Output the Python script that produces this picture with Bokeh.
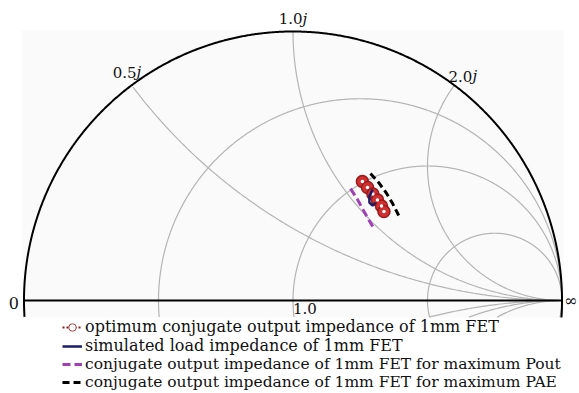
import numpy as np
from bokeh.plotting import figure
from bokeh.models import Range1d, Legend, LegendItem
from bokeh.core.properties import value
from bokeh.embed import file_html
from bokeh.resources import INLINE

opt_re = [0.258, 0.277, 0.297, 0.314, 0.329, 0.338]
opt_im = [0.442, 0.420, 0.396, 0.374, 0.351, 0.331]
sim_re = [0.296, 0.284, 0.284, 0.296, 0.307]
sim_im = [0.413, 0.387, 0.364, 0.353, 0.364]
pout_re = [0.214, 0.240, 0.262, 0.281, 0.299]
pout_im = [0.416, 0.375, 0.335, 0.301, 0.271]
pae_re = [0.288, 0.318, 0.348, 0.370, 0.393]
pae_im = [0.472, 0.439, 0.398, 0.361, 0.316]

# ---- Smith chart grid ----
resistances = [1 / 3, 1.0, 3.0]
reactances = [0.5, 1.0, 2.0]
reactance_labels = ["0.5", "1.0", "2.0"]
resistance_label_values = [1.0]
resistance_labels = ["1.0"]

legend_labels = [
    "optimum conjugate output impedance of 1mm FET",
    "simulated load impedance of 1mm FET",
    "conjugate output impedance of 1mm FET for maximum Pout",
    "conjugate output impedance of 1mm FET for maximum PAE",
]

PX = 269.0  # pixels per unit of reflection coefficient
Y_CLIP = -0.063
GRID = "#b4b4b4"
SERIF = "DejaVu Serif"
LEG_SIZES = ["16px", "16px", "15.5px", "15.5px"]

p = figure(width=579, height=393, output_backend="svg", toolbar_location=None,
           x_range=Range1d(-292.5 / PX, (579 - 292.5) / PX),
           y_range=Range1d((300 - 393) / PX, 300 / PX),
           min_border=0, outline_line_color=None)
p.axis.visible = False
p.grid.visible = False
p.background_fill_color = "white"
p.border_fill_color = "white"

# light panel behind the chart
p.quad(left=-1.0056, right=1.0056, bottom=Y_CLIP, top=1.0037,
       fill_color="#fafafa", line_color=None)

t = np.linspace(0, 2 * np.pi, 1500)


def clipped(xs, ys):
    xs = np.array(xs, dtype=float)
    ys = np.array(ys, dtype=float)
    bad = (ys < Y_CLIP) | (xs ** 2 + ys ** 2 > 1.0000001)
    xs[bad] = np.nan
    ys[bad] = np.nan
    return xs, ys


for r in resistances:
    c = r / (1 + r)
    rad = 1 / (1 + r)
    xs, ys = clipped(c + rad * np.cos(t), rad * np.sin(t))
    p.line(xs, ys, line_color=GRID, line_width=1.2)

for xv in reactances:
    for s in (1, -1):
        cy = s / xv
        rad = 1 / xv
        xs, ys = clipped(1 + rad * np.cos(t), cy + rad * np.sin(t))
        p.line(xs, ys, line_color=GRID, line_width=1.2)

# outer circle and real axis
ox, oy = clipped(np.cos(t), np.sin(t))
p.line(ox, oy, line_color="black", line_width=2)
p.line([-1, 1], [0, 0], line_color="black", line_width=2)

# reactance labels (number + italic j)
lab_x = [(x * x - 1) / (x * x + 1) for x in reactances]
lab_y = [2 * x / (x * x + 1) for x in reactances]
x_offs = [4.9, 9.5, 18.0]
y_offs = [-13, -13, -9]
for lx, ly, txt, xo, yo in zip(lab_x, lab_y, reactance_labels, x_offs, y_offs):
    p.text(x=[lx], y=[ly], text=[txt], x_offset=xo, y_offset=yo,
           text_align="right", text_baseline="middle",
           text_font=value(SERIF), text_font_size="15px", text_color="#111111")
    p.text(x=[lx], y=[ly], text=["j"], x_offset=xo, y_offset=yo,
           text_align="left", text_baseline="middle", text_font_style="italic",
           text_font=value(SERIF), text_font_size="15px", text_color="#111111")

# resistance label
rl_x = [(r - 1) / (r + 1) for r in resistance_label_values]
p.text(x=rl_x, y=[0] * len(rl_x), text=resistance_labels, x_offset=0, y_offset=8,
       text_align="left", text_baseline="middle",
       text_font=value(SERIF), text_font_size="15px", text_color="#111111")

# ends of the real axis
p.text(x=[-1], y=[0], text=["0"], x_offset=-5, y_offset=2, text_align="right",
       text_baseline="middle", text_font=value(SERIF), text_font_size="16px",
       text_color="#111111")
p.text(x=[1], y=[0], text=["\u221e"], x_offset=2, y_offset=0, text_align="left",
       text_baseline="middle", text_font=value(SERIF), text_font_size="16px",
       text_color="#111111")

# ---- data series ----
r_pout = p.line(pout_re, pout_im, line_color="#a040b4", line_width=3, line_dash="8 4")
r_pae = p.line(pae_re, pae_im, line_color="black", line_width=3, line_dash="7 4")
r_opt_l = p.line(opt_re, opt_im, line_color="#8b1a1a", line_width=2, line_dash="2 2")
r_opt_s = p.scatter(opt_re, opt_im, size=12, fill_color="#d0302f",
                    line_color="#9b1b1b", line_width=1.5)
r_opt_d = p.scatter(opt_re, opt_im, size=3.5, fill_color="white", line_color=None)
r_sim = p.line(sim_re, sim_im, line_color="#1c1c66", line_width=2.5)

# one legend per row, so that the rows can sit as tightly as in the original
row_renderers = [[r_opt_l, r_opt_s, r_opt_d], [r_sim], [r_pout], [r_pae]]
row_bottoms = [57, 38.5, 20, 1.5]
for lab, rends, yb, fs in zip(legend_labels, row_renderers, row_bottoms, LEG_SIZES):
    lg = Legend(items=[LegendItem(label=lab, renderers=rends)],
                location=(62, int(round(yb))), orientation="vertical",
                label_text_font=SERIF, label_text_font_size=fs,
                label_text_color="#111111",
                glyph_width=20, glyph_height=16, label_height=16, label_standoff=3,
                spacing=0, padding=0, margin=0, border_line_color=None,
                background_fill_alpha=0)
    p.add_layout(lg)

open("out.html", "w").write(file_html(p, INLINE))
